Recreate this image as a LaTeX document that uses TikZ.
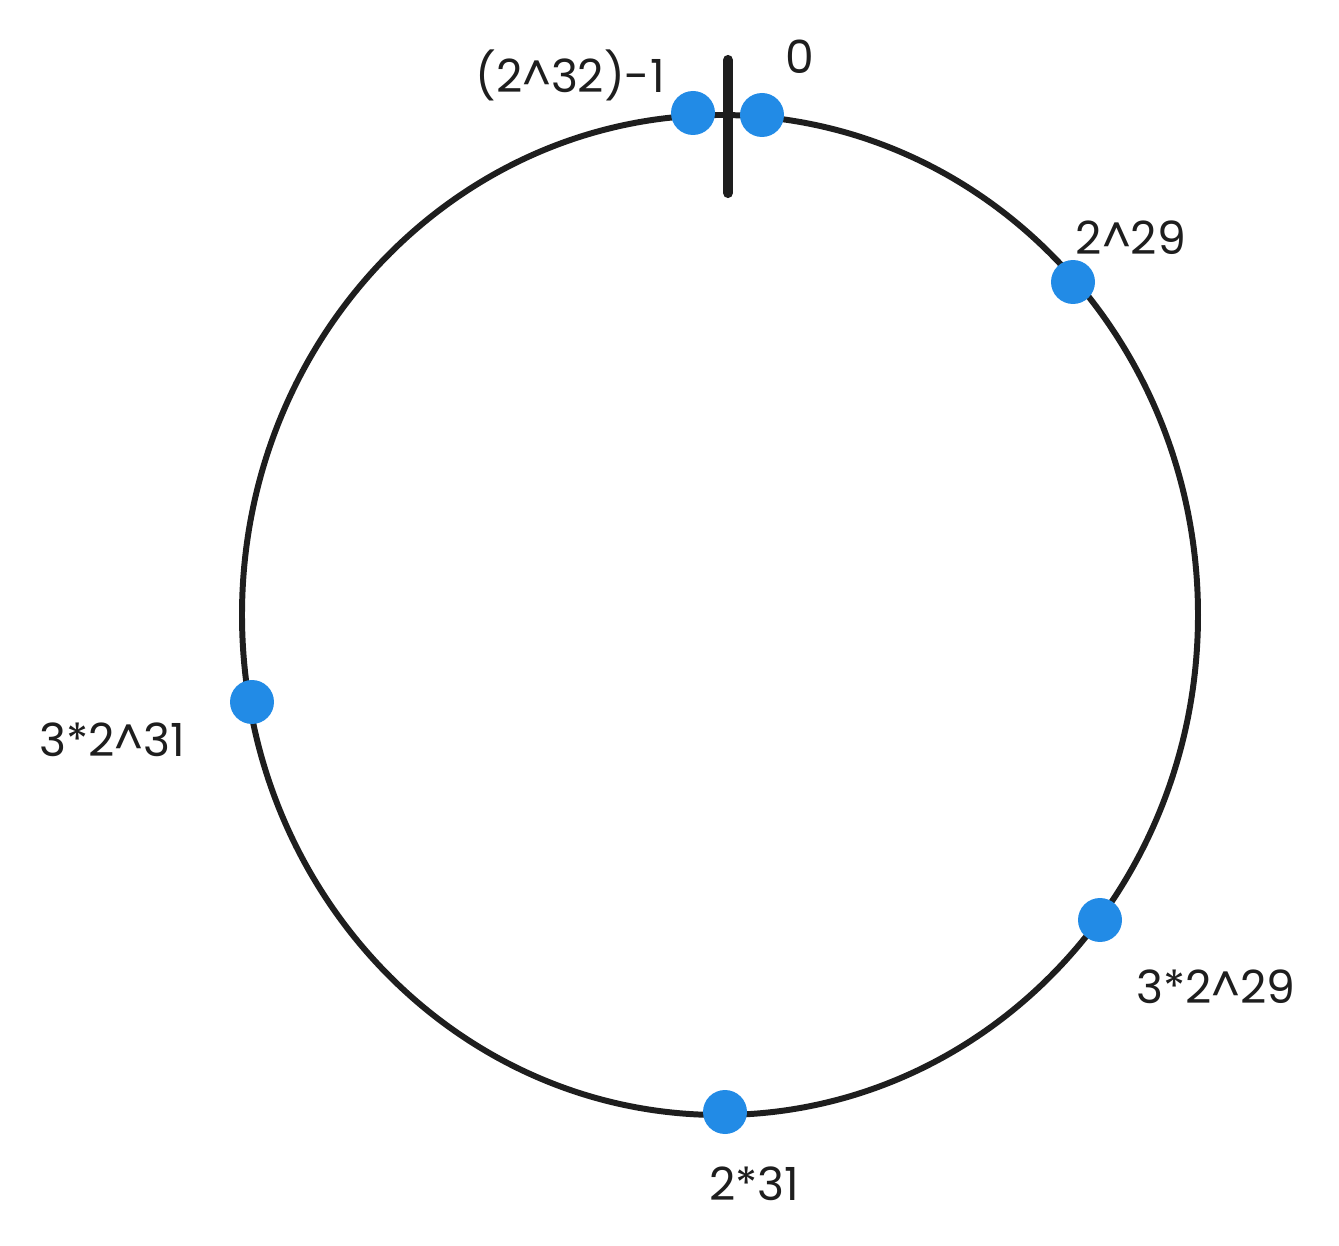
\documentclass[tikz,border=0pt]{standalone}
\usepackage{fontspec}
\setmainfont{Poppins}
\usepackage{xcolor}
\usepackage{tikz}
\usetikzlibrary{positioning}
\definecolor{inkdark}{HTML}{1E1E1E}
\definecolor{dotblue}{HTML}{228BE6}
\tikzset{
  ring/.style={draw=inkdark, line width=3.4pt},
  marker/.style={draw=inkdark, line width=5.8pt, line cap=round},
  hashdot/.style={circle, fill=dotblue, inner sep=0pt, minimum size=0.88cm},
  lbl/.style={text=inkdark, font=\fontsize{26}{30}\selectfont, inner sep=0pt},
}
\begin{document}
\begin{tikzpicture}[x=0.02cm, y=-0.02cm]
  \useasboundingbox (0,0) rectangle (1339,1246);
  \draw[ring] (720,615) ellipse [x radius=478, y radius=500];
  \draw[marker] (728,60) -- (728,193);

  \node[hashdot] (last) at (693,113) {};
  \node[hashdot] (zero) at (762,115) {};
  \node[hashdot] (q1) at (1073,282) {};
  \node[hashdot] (q3) at (1100,920) {};
  \node[hashdot] (half) at (725,1112) {};
  \node[hashdot] (q5) at (252,702) {};

  \node[lbl] (lastlbl) at (570,75) {(2\textasciicircum32)-1};
  \node[lbl] (zerolbl) at (800,57) {0};
  \node[lbl] (q1lbl) at (1131,238) {2\textasciicircum29};
  \node[lbl] (q3lbl) at (1216,987) {3*2\textasciicircum29};
  \node[lbl] (halflbl) at (754,1184) {2*31};
  \node[lbl] (q5lbl) at (112,740) {3*2\textasciicircum31};
\end{tikzpicture}
\end{document}
